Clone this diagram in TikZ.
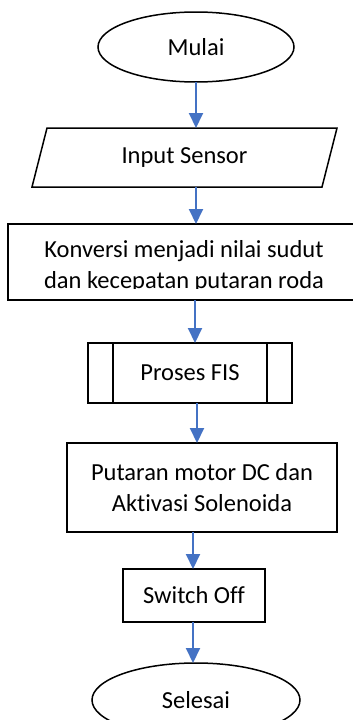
\documentclass[tikz,border=0pt]{standalone}
\usepackage{fontspec}
\setmainfont{Carlito}[Ligatures=NoCommon]
\usetikzlibrary{shapes.geometric,arrows.meta}
\definecolor{arrblue}{HTML}{4472C4}
\begin{document}
\begin{tikzpicture}[x=1pt,y=-1pt,
  every node/.style={font=\fontsize{24.5}{31}\selectfont, inner sep=0pt, outer sep=0pt},
  box/.style={draw=black, line width=1.5pt, rectangle, minimum width=#1},
  term/.style={draw=black, line width=1.5pt, ellipse},
  arr/.style={draw=arrblue, line width=2pt, -{Triangle[length=15pt,width=14pt]}},
  txt/.style={align=center}]
\useasboundingbox (0,0) rectangle (353,720);
\clip (0,0) rectangle (353,720);
\fill[white] (0,0) rectangle (353,720);

% Start
\node[term, minimum width=196pt, minimum height=70pt] (start) at (196,47) {Mulai};

% Input (parallelogram)
\node[minimum width=290pt, minimum height=59pt] (inp) at (184.5,157.5) {Input Sensor};
\draw[line width=1.5pt] ([xshift=7.5pt]inp.north west) -- ([xshift=7.5pt]inp.north east)
  -- ([xshift=-7.5pt]inp.south east) -- ([xshift=-7.5pt]inp.south west) -- cycle;

% Conversion box (extends past right edge)
\node[box=362pt, minimum height=76pt] (konv) at (189,262) {};
\begin{scope}
  \clip (0,0) rectangle (353,288.5);
  \node[txt] (konvtxt) at (184,266) {Konversi menjadi nilai sudut\\dan kecepatan putaran roda};
\end{scope}

% Predefined process
\node[box=204pt, minimum height=60pt] (proc) at (190,373) {Proses FIS};
\draw[line width=1.5pt] ([xshift=25pt]proc.north west) -- ([xshift=25pt]proc.south west);
\draw[line width=1.5pt] ([xshift=-25pt]proc.north east) -- ([xshift=-25pt]proc.south east);

% Action
\node[box=270pt, minimum height=89pt, txt] (act) at (202,487.5) {Putaran motor DC dan\\Aktivasi Solenoida};

% Switch off
\node[box=142pt, minimum height=53pt] (sw) at (194,595.5) {Switch Off};

% End
\node[term, minimum width=208pt, minimum height=74pt] (end) at (196,700) {Selesai};

% arrow x positions
\coordinate (c1) at (196,0);
\coordinate (c3) at (195,0);
\coordinate (c4) at (197,0);
\coordinate (c5) at (193,0);

\draw[arr] (start.south) -- (inp.north -| c1);
\draw[arr] (inp.south -| c1) -- (konv.north -| c1);
\draw[arr] (konv.south -| c3) -- (proc.north -| c3);
\draw[arr] (proc.south -| c4) -- (act.north -| c4);
\draw[arr] (act.south -| c5) -- (sw.north -| c5);
\draw[arr] (sw.south -| c5) -- (end.north -| c5);
\end{tikzpicture}
\end{document}
